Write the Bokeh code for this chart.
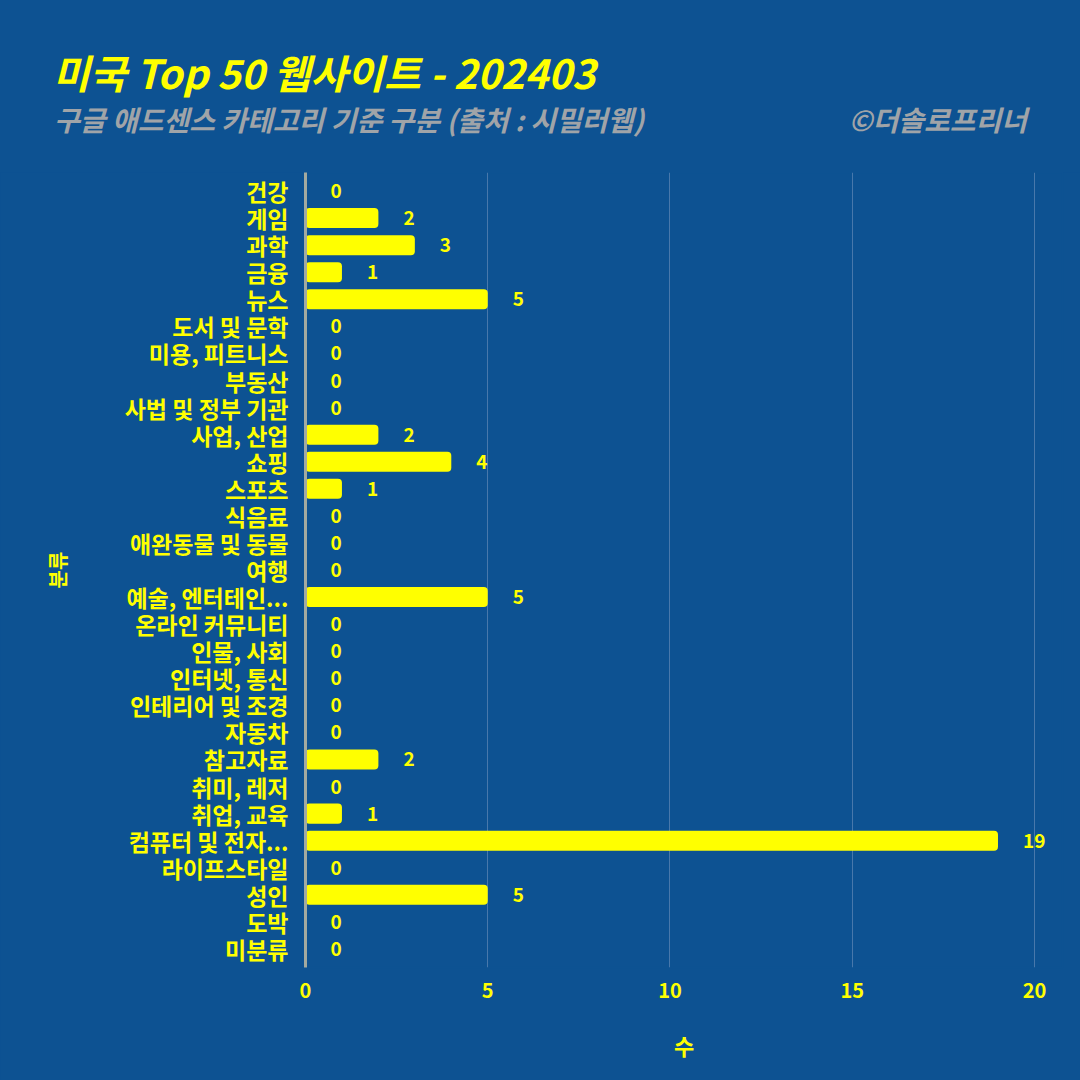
from bokeh.plotting import figure
from bokeh.layouts import column
from bokeh.models import FactorRange, Range1d, ColumnDataSource, FixedTicker, Div
from bokeh.core.properties import value
from bokeh.embed import file_html
from bokeh.resources import INLINE

categories = ["건강", "게임", "과학", "금융", "뉴스", "도서 및 문학", "미용, 피트니스", "부동산",
              "사법 및 정부 기관", "사업, 산업", "쇼핑", "스포츠", "식음료", "애완동물 및 동물", "여행",
              "예술, 엔터테인...", "온라인 커뮤니티", "인물, 사회", "인터넷, 통신", "인테리어 및 조경",
              "자동차", "참고자료", "취미, 레저", "취업, 교육", "컴퓨터 및 전자...", "라이프스타일",
              "성인", "도박", "미분류"]
counts = [0, 2, 3, 1, 5, 0, 0, 0, 0, 2, 4, 1, 0, 0, 0, 5, 0, 0, 0, 0, 0, 2, 0, 1, 19, 0, 5, 0, 0]
x_ticks = [0, 5, 10, 15, 20]

title_text = "미국 Top 50 웹사이트 - 202403"
subtitle_text = "구글 애드센스 카테고리 기준 구분 (출처 : 시밀러웹)"
credit_text = "©더솔로프리너"

BG = "#0d5292"
YEL = "#ffff00"
GRAY = "#a0a4a8"
FONT = "Noto Sans CJK KR"

W = 1080
HEAD_H = 172
MAIN_H = 1080 - HEAD_H
FL, FB, FR = 305, 967, 1062
PAD = 0.0127

# ---------- header (title / subtitle / credit) ----------
common = ("position:absolute; white-space:nowrap; line-height:1; font-family:'%s';"
          " font-weight:bold; font-style:italic;" % FONT)
header_html = (
    '<div style="position:relative; width:%dpx; height:%dpx; background:%s;">' % (W, HEAD_H, BG)
    + '<div style="%s left:53px; top:52px; font-size:40px; color:%s;">%s</div>' % (common, YEL, title_text)
    + '<div style="%s left:54px; top:105px; font-size:28px; color:%s;">%s</div>' % (common, GRAY, subtitle_text)
    + '<div style="%s right:53px; top:105px; font-size:28px; color:%s;">%s</div>' % (common, GRAY, credit_text)
    + '</div>'
)
hdr = Div(text=header_html, width=W, height=HEAD_H,
          styles={"background-color": BG, "margin": "0", "padding": "0"})

# ---------- main chart ----------
src = ColumnDataSource(dict(cat=categories, val=counts, lab=[str(v) for v in counts]))

p = figure(width=W, height=MAIN_H, output_backend="svg", toolbar_location=None,
           y_range=FactorRange(factors=list(reversed(categories)), range_padding=PAD),
           x_range=Range1d(0, 20.77),
           min_border_left=FL, min_border_right=W - FR, min_border_top=0,
           min_border_bottom=1080 - FB)
p.background_fill_color = BG
p.border_fill_color = BG
p.outline_line_color = BG
p.outline_line_width = 2

p.hbar(y="cat", right="val", left=0, height=0.74, source=src, fill_color=YEL,
       line_color=None, border_radius=4)
p.text(x="val", y="cat", text="lab", source=src, text_color=YEL, text_font=value(FONT),
       text_font_style="bold", text_font_size="19px", text_align="left",
       text_baseline="middle", x_offset=25)

p.xgrid.ticker = FixedTicker(ticks=x_ticks)
p.xgrid.grid_line_color = "#6f93bd"
p.xgrid.grid_line_alpha = 0.6
p.xgrid.grid_line_width = 1
p.ygrid.grid_line_color = None

p.xaxis.ticker = FixedTicker(ticks=x_ticks)
p.xaxis.axis_line_color = None
p.xaxis.major_tick_line_color = None
p.xaxis.minor_tick_line_color = None
p.xaxis.major_label_text_color = YEL
p.xaxis.major_label_text_font = FONT
p.xaxis.major_label_text_font_style = "bold"
p.xaxis.major_label_text_font_size = "20px"
p.xaxis.major_label_standoff = 9
p.xaxis.axis_label = "수"
p.xaxis.axis_label_text_color = YEL
p.xaxis.axis_label_text_font = FONT
p.xaxis.axis_label_text_font_style = "bold"
p.xaxis.axis_label_text_font_size = "22px"
p.xaxis.axis_label_standoff = 28

p.yaxis.axis_line_color = "#a3aaa0"
p.yaxis.axis_line_width = 3
p.yaxis.major_tick_line_color = None
p.yaxis.minor_tick_line_color = None
p.yaxis.major_label_text_color = YEL
p.yaxis.major_label_text_font = FONT
p.yaxis.major_label_text_font_style = "bold"
p.yaxis.major_label_text_font_size = "23px"
p.yaxis.major_label_standoff = 11
p.yaxis.axis_label = "분류"
p.yaxis.axis_label_text_color = YEL
p.yaxis.axis_label_text_font = FONT
p.yaxis.axis_label_text_font_style = "bold"
p.yaxis.axis_label_text_font_size = "20px"
p.yaxis.axis_label_standoff = 50

layout = column(hdr, p, spacing=0)
layout.background = BG

open("out.html", "w").write(file_html(layout, INLINE))
